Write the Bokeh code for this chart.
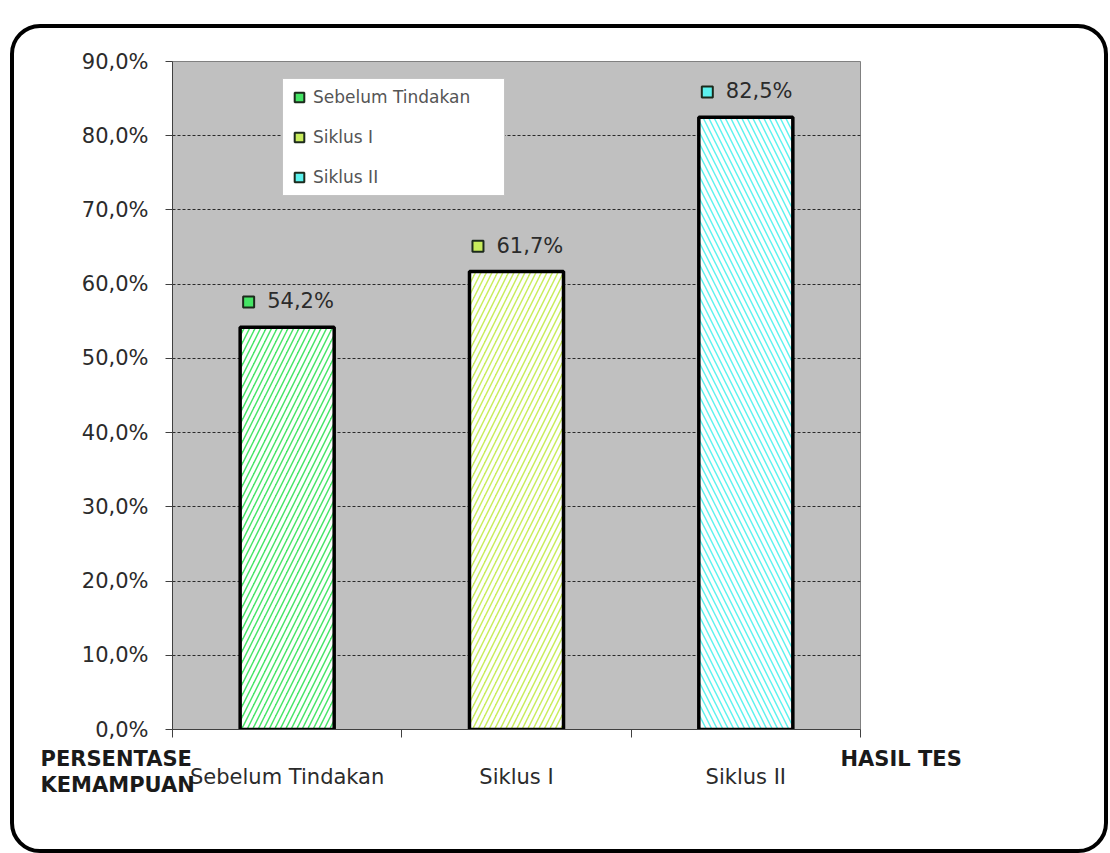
from bokeh.plotting import figure
from bokeh.models import (Range1d, FixedTicker, CustomJSTickFormatter, Legend, LegendItem,
                          Label, ColumnDataSource, InlineStyleSheet)
from bokeh.core.properties import value
from bokeh.embed import file_html
from bokeh.resources import INLINE

# ---- data ----
categories = ["Sebelum Tindakan", "Siklus I", "Siklus II"]
values = [54.2, 61.7, 82.5]
y_ticks = [0, 10, 20, 30, 40, 50, 60, 70, 80, 90]
bar_colors = ["#45e565", "#c8ec5c", "#5cf2ee"]
hatches = ["right_diagonal_line", "right_diagonal_line", "left_diagonal_line"]
y_title = "PERSENTASE\nKEMAMPUAN"
x_title = "HASIL TES"

FONT = "DejaVu Sans"
xs = [i + 0.5 for i in range(len(categories))]
bounds = [float(i) for i in range(len(categories) + 1)]
labels = [("%.1f" % v).replace(".", ",") + "%" for v in values]

src = ColumnDataSource(dict(x=xs, top=values, color=bar_colors, hatch=hatches, label=labels, cat=categories))

p = figure(width=1110, height=853, output_backend="svg", toolbar_location=None,
           x_range=Range1d(0, len(categories)), y_range=Range1d(0, 90),
           min_border_left=172, min_border_right=250, min_border_top=61, min_border_bottom=124)
p.background_fill_color = "#c0c0c0"
p.border_fill_color = "#ffffff"
p.outline_line_color = "#808080"
p.outline_line_width = 1

p.xgrid.visible = False
p.ygrid.ticker = FixedTicker(ticks=y_ticks)
p.ygrid.grid_line_color = "#2a2a2a"
p.ygrid.grid_line_dash = "3 2"
p.ygrid.grid_line_width = 1

yax = p.yaxis[0]
yax.ticker = FixedTicker(ticks=y_ticks)
yax.formatter = CustomJSTickFormatter(code="return tick.toFixed(1).replace('.', ',') + '%';")
yax.major_label_text_font = FONT
yax.major_label_text_font_size = "21px"
yax.major_label_text_color = "#2b2b2b"
yax.major_tick_out = 7
yax.major_tick_in = 0
yax.minor_tick_out = 0
yax.minor_tick_in = 0
yax.axis_line_color = "#404040"
yax.major_tick_line_color = "#404040"
yax.major_label_standoff = 17

xax = p.xaxis[0]
xax.ticker = FixedTicker(ticks=xs, minor_ticks=bounds)
xax.major_label_overrides = {x: c for x, c in zip(xs, categories)}
xax.major_label_text_font = FONT
xax.major_label_text_font_size = "21px"
xax.major_label_text_color = "#2b2b2b"
xax.major_tick_out = 0
xax.major_tick_in = 0
xax.minor_tick_out = 8
xax.minor_tick_in = 0
xax.minor_tick_line_color = "#404040"
xax.axis_line_color = "#404040"
xax.major_label_standoff = 27

p.vbar(x="x", top="top", width=0.41, bottom=0, source=src,
       fill_color="color", hatch_pattern="hatch", hatch_color="white",
       hatch_scale=11, hatch_weight=3.5, line_color="black", line_width=3.5)

mx = [x - 0.168 for x in xs]
my = [v + 3.4 for v in values]
msrc = ColumnDataSource(dict(x=mx, y=my, color=bar_colors))
mr = p.scatter(x="x", y="y", source=msrc, marker="square", size=11,
               fill_color="color", line_color="#1c2a1c", line_width=2)

p.text(x="x", y="top", text="label", source=src, x_offset=-20, y_offset=-26,
       text_align="left", text_baseline="middle", text_font=value(FONT),
       text_font_size="21px", text_color="#2b2b2b")

items = [LegendItem(label=c, renderers=[mr], index=i) for i, c in enumerate(categories)]
leg = Legend(items=items, location=(110, 533), margin=0, padding=4, spacing=12,
             label_height=28, glyph_height=26, glyph_width=24, label_standoff=2,
             label_width=187, label_text_font=FONT, label_text_font_size="17px",
             label_text_color="#555555", border_line_color="#888888",
             background_fill_color="white", background_fill_alpha=1)
p.add_layout(leg, "center")

# axis titles (placed in side panels so they are not clipped to the plot frame)
p.add_layout(Label(x=40, y=746, x_units="canvas", y_units="canvas", text=y_title,
                   text_font=FONT, text_font_size="21px", text_font_style="bold",
                   text_color="#1a1a1a", text_line_height=1.1, text_baseline="top"), "below")
p.add_layout(Label(x=840, y=746, x_units="canvas", y_units="canvas", text=x_title,
                   text_font=FONT, text_font_size="21px", text_font_style="bold",
                   text_color="#1a1a1a", text_baseline="top"), "right")

# outer rounded frame drawn as a decoration over the figure
p.stylesheets = [InlineStyleSheet(css="""
:host { position: relative; }
:host::after {
  content: ""; position: absolute; left: 10px; top: 24px;
  width: 1098px; height: 829px; box-sizing: border-box;
  border: 4px solid #000; border-radius: 30px;
  pointer-events: none; z-index: 100;
}
""")]

open("out.html", "w").write(file_html(p, INLINE))
